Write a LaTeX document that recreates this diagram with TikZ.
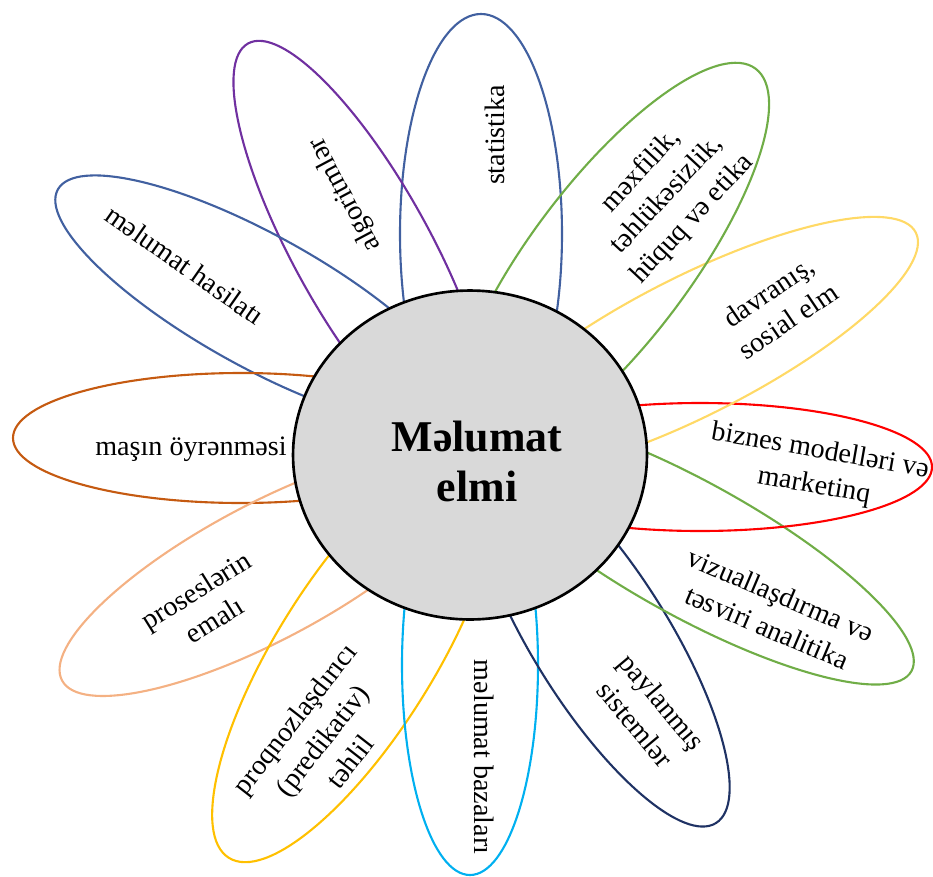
\documentclass[tikz,border=0pt]{standalone}
\usepackage{fontspec}
\setmainfont{Liberation Serif}
\usepackage{tikz}
\usetikzlibrary{shapes.geometric}
\definecolor{petalblue}{RGB}{65,96,160}
\definecolor{petalpurple}{RGB}{112,48,160}
\definecolor{petalbrown}{RGB}{197,90,17}
\definecolor{petalsalmon}{RGB}{244,177,131}
\definecolor{petalgold}{RGB}{255,192,0}
\definecolor{petalcyan}{RGB}{0,176,240}
\definecolor{petalnavy}{RGB}{31,50,100}
\definecolor{petalgreen}{RGB}{112,173,71}
\definecolor{petalred}{RGB}{255,0,0}
\definecolor{petalyellow}{RGB}{255,217,102}
\definecolor{hubgray}{RGB}{217,217,217}

\begin{document}
\begin{tikzpicture}[
    x=0.02cm, y=-0.02cm,
    petal/.style={line width=1.2pt},
    topic/.style={align=center, inner sep=0pt, font=\fontsize{16}{20}\selectfont},
    hub/.style={draw, ellipse, line width=1.5pt, fill=hubgray, minimum width=7.08cm, minimum height=6.58cm, inner sep=0pt},
    title/.style={align=center, inner sep=0pt, font=\fontsize{25}{28.5}\selectfont\bfseries}
]
\useasboundingbox (0,0) rectangle (933,876);

% Petals
\draw[petal, petalblue] (481,234) ellipse [x radius=220, y radius=81, rotate=90];
\draw[petal, petalpurple] (362,249) ellipse [x radius=235, y radius=68, rotate=119];
\draw[petal, petalblue] (259,301) ellipse [x radius=230, y radius=66, rotate=151];
\draw[petal, petalbrown] (241,438) ellipse [x radius=228, y radius=65, rotate=0];
\draw[petal, petalsalmon] (266,572) ellipse [x radius=231, y radius=68, rotate=28];
\draw[petal, petalgold] (355,656) ellipse [x radius=238, y radius=79, rotate=58];
\draw[petal, petalcyan] (470,665) ellipse [x radius=210, y radius=68, rotate=90];
\draw[petal, petalnavy] (601,639) ellipse [x radius=217, y radius=68, rotate=-58];
\draw[petal, petalgreen] (691,549) ellipse [x radius=252, y radius=67, rotate=-29];
\draw[petal, petalred] (700,467) ellipse [x radius=232, y radius=64, rotate=0];
\draw[petal, petalyellow] (693,346) ellipse [x radius=250, y radius=69, rotate=27];
\draw[petal, petalgreen] (610,262) ellipse [x radius=242, y radius=80, rotate=53];

% Centre
\node[hub] (hub) at (470,455) {};
\node[title] (title) at (477,461) {Məlumat\\elmi};

% Petal labels
\node[topic, rotate=90] (stat) at (495,135) {statistika};
\node[topic, rotate=118] (algo) at (345,195) {algoritmlər};
\node[topic, rotate=-35] (hasil) at (185,265) {məlumat hasilatı};
\node[topic] (masin) at (191,449) {maşın öyrənməsi};
\node[topic, rotate=32] (proses) at (205,605) {proseslərin\\emalı};
\node[topic, rotate=52] (proqnoz) at (322,740) {proqnozlaşdırıcı\\(predikativ)\\təhlil};
\node[topic, rotate=-90] (baza) at (484,757) {məlumat bazaları};
\node[topic, rotate=-50] (payl) at (649,713) {paylanmış\\sistemlər};
\node[topic, rotate=-23] (vizual) at (774,611) {vizuallaşdırma və\\təsviri analitika};
\node[topic, rotate=-10] (biznes) at (817,469) {biznes modelləri və\\marketinq};
\node[topic, rotate=34] (davr) at (778,306) {davranış,\\sosial elm};
\node[topic, rotate=47] (mexf) at (667,195) {məxfilik,\\təhlükəsizlik,\\hüquq və etika};

\end{tikzpicture}
\end{document}
